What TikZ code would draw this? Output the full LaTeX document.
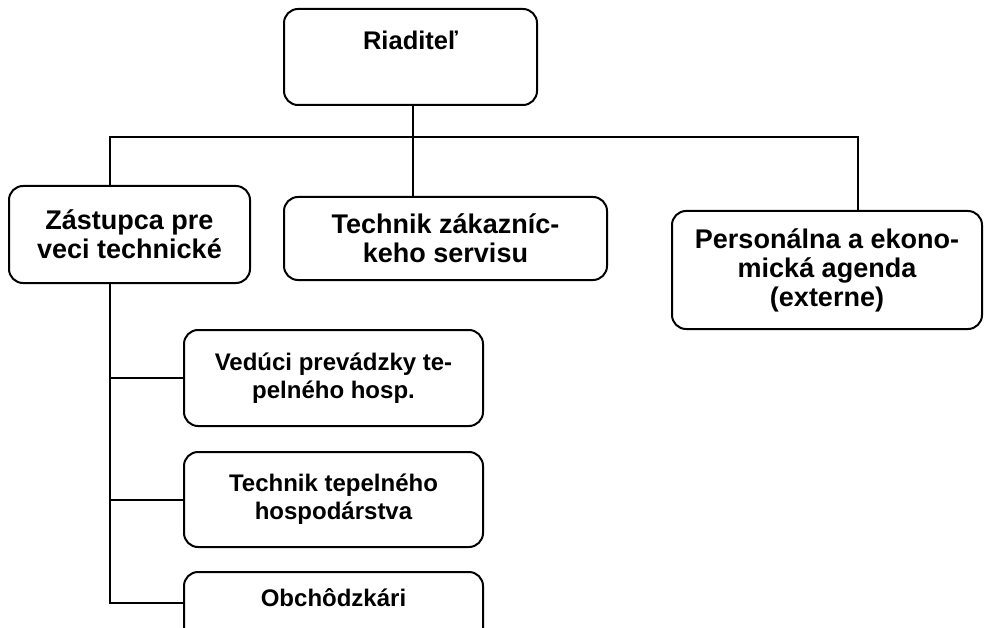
\documentclass[tikz,border=0pt]{standalone}
\usepackage{fontspec}
\setmainfont{Liberation Sans}
\begin{document}
\begin{tikzpicture}[x=1pt,y=-1pt,line width=2pt,
  box/.style={draw=black, rounded corners=14pt, align=center, inner sep=0pt, fill=white},
  big/.style={font=\bfseries\fontsize{27}{29}\selectfont},
  small/.style={font=\bfseries\fontsize{24}{28}\selectfont},
  conn/.style={draw=black, line width=2pt}]
\useasboundingbox (0,0) rectangle (984,628);
\fill[white] (0,0) rectangle (984,628);

% top
\node[box, minimum width=253pt, minimum height=96pt] (dir) at (410.5,57) {};
\node[font=\bfseries\fontsize{25.5}{29}\selectfont, anchor=base] (dirtext) at (410.5,49.3) {Riaditeľ};

% second level
\node[box, big, minimum width=241pt, minimum height=97pt] (zast) at (129.5,234.5) {Zástupca pre\\veci technické};
\node[box, big, minimum width=323pt, minimum height=83pt] (tzs) at (445.5,238.5) {Technik zákazníc-\\keho servisu};
\node[box, big, minimum width=310pt, minimum height=118pt] (pers) at (827,270) {Personálna a ekono-\\mická agenda\\(externe)};

% third level
\node[box, small, minimum width=299pt, minimum height=96pt] (ved) at (333.5,378) {Vedúci prevádzky te-\\pelného hosp.};
\node[box, small, minimum width=299pt, minimum height=95pt] (ttep) at (333.5,499.5) {Technik tepelného\\hospodárstva};
\node[box, minimum width=299pt, minimum height=88pt] (obch) at (333.5,616) {};
\node[small, anchor=base] (obchtext) at (333.5,606) {Obchôdzkári};

% bus coordinates
\coordinate (L) at (110,137);
\coordinate (R) at (858,137);
\coordinate (M) at (413,137);

% connectors
\draw[conn] (dir.south -| M) -- (tzs.north -| M);
\draw[conn] (zast.north -| L) -- (L) -- (R) -- (pers.north -| R);
\draw[conn] (zast.south -| L) |- (obch.west |- obchtext.mid);
\draw[conn] (ved.west -| L) -- (ved.west);
\draw[conn] (ttep.west -| L) -- (ttep.west);
\end{tikzpicture}
\end{document}
